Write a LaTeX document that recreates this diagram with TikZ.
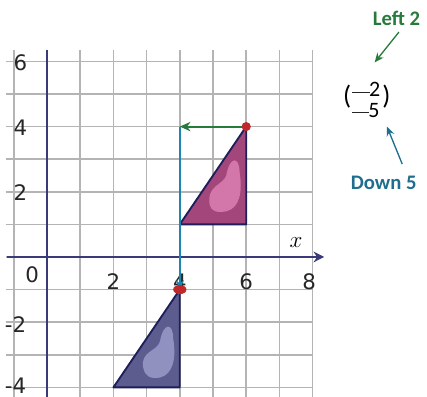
\documentclass[tikz,border=0pt]{standalone}
\usepackage{fontspec}
\setmainfont{DejaVu Sans}
\newfontfamily\calibfont{Carlito}
\usetikzlibrary{arrows.meta}
\definecolor{gridc}{HTML}{B4B4B4}
\definecolor{axisc}{HTML}{3A3A78}
\definecolor{navy}{HTML}{1E1E5A}
\definecolor{pinkf}{HTML}{A3467C}
\definecolor{pinkl}{HTML}{E88CBE}
\definecolor{bluef}{HTML}{5C5C8E}
\definecolor{bluel}{HTML}{A8A8D6}
\definecolor{greenc}{HTML}{267A3C}
\definecolor{tealc}{HTML}{1C86B0}
\definecolor{dtealc}{HTML}{1F6E8E}
\definecolor{redc}{HTML}{C0282A}
\tikzset{
  gridline/.style={draw=gridc, line width=1.1pt},
  axisline/.style={draw=axisc, line width=1.5pt},
  numlab/.style={font=\fontsize{16}{16}\selectfont, text=black!85, inner sep=0pt},
  tri/.style={draw=navy, line width=1.4pt, line join=round},
  callout/.style={font=\calibfont\bfseries\fontsize{15.5}{16}\selectfont, inner sep=0pt},
  vecnum/.style={font=\calibfont\fontsize{16.5}{16.5}\selectfont, inner sep=0pt},
  vecpar/.style={font=\calibfont\fontsize{20}{20}\selectfont, inner sep=0pt},
}
\begin{document}
\begin{tikzpicture}[x=24.9pt,y=24.45pt]
\useasboundingbox (-1.416,-4.294) rectangle (11.446,7.883);
% grid
\foreach \i in {-1,...,8} \draw[gridline] (\i,-4.4) -- (\i,6.35);
\foreach \j in {-4,...,6} \draw[gridline] (-1.25,\j) -- (8,\j);
% axes
\coordinate (xs) at (-1.2,0);
\coordinate (xe) at (8.35,0);
\coordinate (ys) at (0,6.35);
\coordinate (ye) at (0,-4.4);
\draw[axisline,-{Stealth[length=8pt,width=8pt]}] (xs) -- (xe);
\draw[axisline] (ys) -- (ye);
% labels
\node[numlab] (y6) at (-0.8,5.97) {6};
\node[numlab] (y4) at (-0.8,3.97) {4};
\node[numlab] (y2) at (-0.8,1.97) {2};
\node[numlab] (ym2) at (-0.95,-2.08) {-2};
\node[numlab] (ym4) at (-0.95,-3.95) {-4};
\node[numlab] (x0) at (-0.45,-0.55) {0};
\node[numlab] (x2) at (2,-0.75) {2};
\node[numlab] (x4) at (4,-0.75) {4};
\node[numlab] (x6) at (6,-0.75) {6};
\node[numlab] (x8) at (7.9,-0.75) {8};
\node[inner sep=0pt, font=\fontsize{17}{17}\selectfont] (xl) at (7.5,0.45) {$x$};
% triangles
\fill[pinkf] (4,1) -- (6,4) -- (6,1) -- cycle;
\fill[pinkl, opacity=0.7] (4.9,1.6) .. controls (4.8,2.2) and (5.3,2.2) .. (5.4,2.5)
  .. controls (5.5,3.1) and (5.8,3.1) .. (5.8,2.6) .. controls (5.9,2.0) and (5.8,1.5) .. (5.4,1.4)
  .. controls (5.1,1.35) and (4.95,1.4) .. (4.9,1.6) -- cycle;
\draw[tri] (4,1) -- (6,4) -- (6,1) -- cycle;
\fill[bluef] (4,-1) -- (2,-4) -- (4,-4) -- cycle;
\fill[bluel, opacity=0.7] (2.9,-3.4) .. controls (2.8,-2.9) and (3.3,-2.9) .. (3.4,-2.6)
  .. controls (3.5,-2.0) and (3.8,-2.0) .. (3.8,-2.5) .. controls (3.9,-3.1) and (3.8,-3.6) .. (3.4,-3.7)
  .. controls (3.1,-3.75) and (2.95,-3.65) .. (2.9,-3.4) -- cycle;
\draw[tri] (4,-1) -- (2,-4) -- (4,-4) -- cycle;
% translation arrows
\coordinate (A) at (6,4);
\coordinate (B) at (4,4);
\coordinate (C) at (4,-1);
\draw[tealc, line width=1.6pt, -{Stealth[length=7pt,width=6pt]}] (B) -- (C);
\draw[greenc, line width=1.6pt, -{Stealth[length=8pt,width=7pt]}] (A) -- (B);
\fill[redc] (A) circle[radius=0.14];
\fill[redc] (C) ellipse[x radius=0.2, y radius=0.14];
% vector notation
\node[vecpar] (lp) at (9.04,4.91) {(};
\node[vecpar] (rp) at (10.22,4.91) {)};
\node[vecnum] (v2) at (9.87,5.15) {2};
\node[vecnum] (v5) at (9.85,4.5) {5};
\draw[black!85, line width=1pt] (9.2,5.05) -- ([xshift=0.5pt]v2.west |- 0,5.05);
\draw[black!85, line width=1pt] (9.2,4.44) -- ([xshift=0.5pt]v5.west |- 0,4.44);
\node[callout, text=greenc] (left) at (10.53,7.33) {Left 2};
\node[callout, text=dtealc] (down) at (10.14,2.27) {Down 5};
\coordinate (lt) at (9.87,5.97);
\coordinate (dt) at (10.24,4.0);
\draw[greenc, line width=1pt, -{Stealth[length=7pt,width=6pt]}] (10.6,6.9) -- (lt);
\draw[dtealc, line width=1pt, -{Stealth[length=7pt,width=6pt]}] (10.7,2.85) -- (dt);
\end{tikzpicture}
\end{document}
